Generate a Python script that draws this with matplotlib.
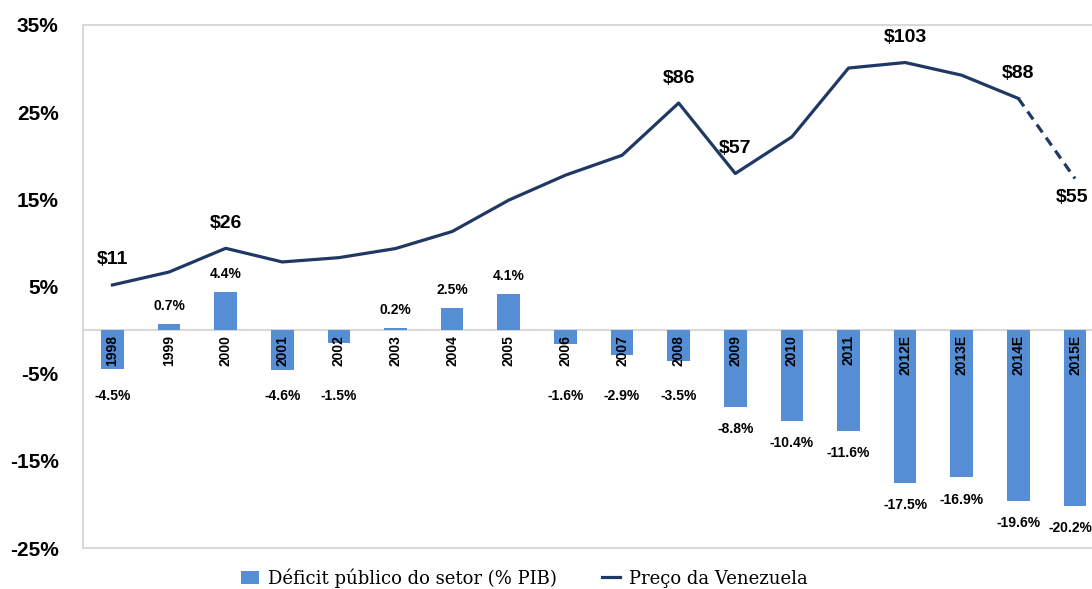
import matplotlib.pyplot as plt
from matplotlib import font_manager

anos = ['1998', '1999', '2000', '2001', '2002', '2003', '2004', '2005', '2006',
        '2007', '2008', '2009', '2010', '2011', '2012E', '2013E', '2014E', '2015E']
deficit = [-4.5, 0.7, 4.4, -4.6, -1.5, 0.2, 2.5, 4.1, -1.6,
           -2.9, -3.5, -8.8, -10.4, -11.6, -17.5, -16.9, -19.6, -20.2]
preco = [10.6, 16.0, 25.9, 20.2, 22.0, 25.8, 32.9, 46.0, 56.4,
         64.7, 86.5, 57.1, 72.4, 101.1, 103.4, 98.1, 88.4, 55.0]
rotulos_preco = {0: '$11', 2: '$26', 10: '$86', 11: '$57', 14: '$103', 16: '$88', 17: '$55'}

names = {f.name for f in font_manager.fontManager.ttflist}
narrow = 'Liberation Sans Narrow' if 'Liberation Sans Narrow' in names else 'Liberation Sans'

cor_barra = '#558ed5'
cor_linha = '#1f3864'
cinza = '#d9d9d9'

fig = plt.figure(figsize=(10.92, 5.89), dpi=100)
ax = fig.add_axes([83 / 1092, 41 / 589, 1 - 83 / 1092, 523 / 589])
x = list(range(len(anos)))

ax.bar(x, deficit, width=0.4, color=cor_barra, label='Déficit público do setor (% PIB)', zorder=2)
ax.axhline(0, color=cinza, lw=1.5, zorder=1)
ax.set_ylim(-25, 35)
ax.set_xlim(-0.52, 17.3)
ax.set_yticks(range(-25, 36, 10))
ax.set_yticklabels([f'{t}%' for t in range(-25, 36, 10)], fontfamily=narrow,
                   fontweight='bold', fontsize=15)
ax.tick_params(axis='y', length=0, pad=17.5)
ax.set_xticks([])
for s in ['top', 'bottom', 'left']:
    ax.spines[s].set_color(cinza)
    ax.spines[s].set_linewidth(1.5)
ax.spines['right'].set_visible(False)

for i, v in enumerate(deficit):
    ax.text(i, -0.6, anos[i], rotation=90, ha='center', va='top', fontsize=10,
            fontfamily=narrow, fontweight='bold', zorder=3)
    if v >= 0:
        ax.annotate(f'{v:.1f}%', (i, v), xytext=(0, 13), textcoords='offset points',
                    ha='center', va='center', fontsize=10, fontfamily=narrow, fontweight='bold')
    else:
        dx = -3 if i == len(deficit) - 1 else 0
        ax.annotate(f'{v:.1f}%', (i, min(v, -5.0)), xytext=(dx, -16), textcoords='offset points',
                    ha='center', va='center', fontsize=10, fontfamily=narrow, fontweight='bold')

ax2 = ax.twinx()
ax2.set_ylim((-25 - 2.26) / 0.275, (35 - 2.26) / 0.275)
ax2.axis('off')
ax2.plot(x[:17], preco[:17], color=cor_linha, lw=2.3, label='Preço da Venezuela')
ax2.plot(x[16:], preco[16:], color=cor_linha, lw=2.3, ls=(0, (3, 2)))
for i, t in rotulos_preco.items():
    dy = -14 if i == 17 else 18
    ax2.annotate(t, (x[i], preco[i]), xytext=(-2 if i == 17 else 0, dy), textcoords='offset points',
                 ha='center', va='center', fontsize=14, fontfamily=narrow, fontweight='bold')

h1, l1 = ax.get_legend_handles_labels()
h2, l2 = ax2.get_legend_handles_labels()
fig.legend(h1 + h2, l1 + l2, loc='center', bbox_to_anchor=(524 / 1092, 11 / 589), ncol=2,
           frameon=False, prop={'family': 'DejaVu Serif', 'size': 13},
           handlelength=1.0, handleheight=0.8, columnspacing=2.5, handletextpad=0.5)

fig.savefig('out.png', dpi=100)
